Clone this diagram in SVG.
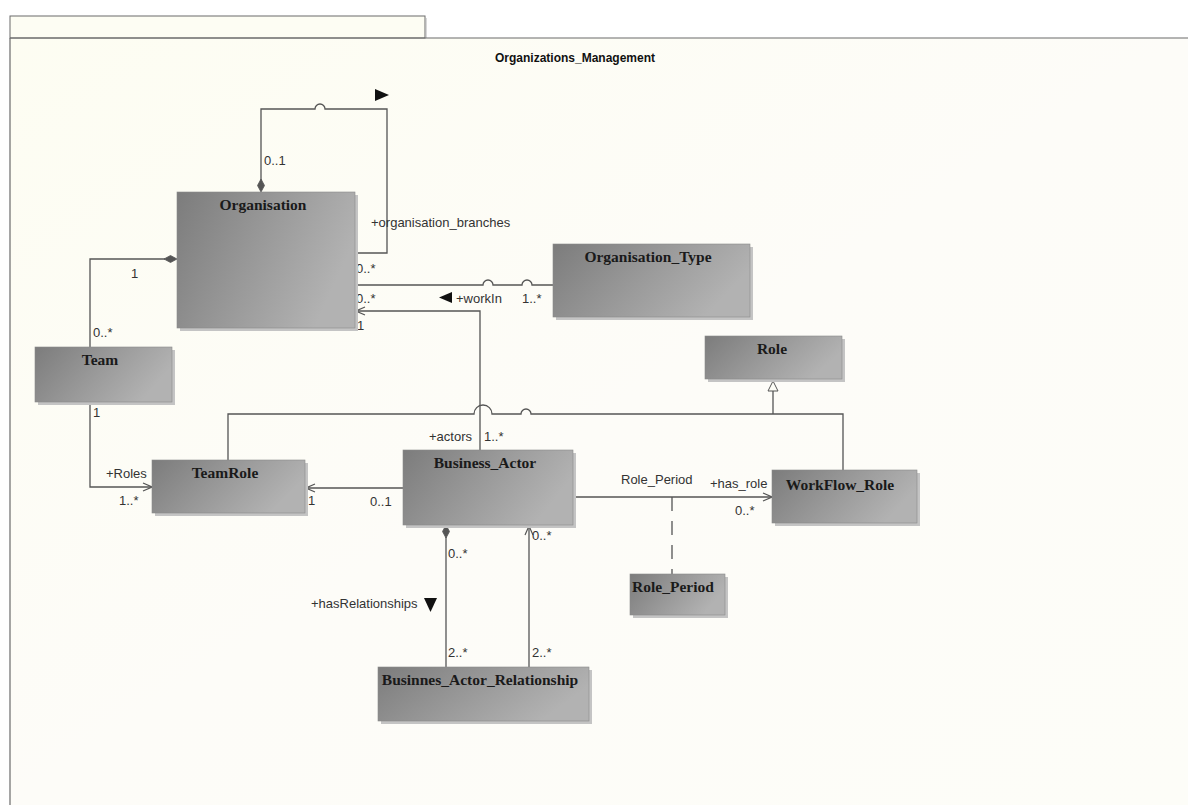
<svg xmlns="http://www.w3.org/2000/svg" width="1188" height="805" viewBox="0 0 1188 805">
<defs>
<linearGradient id="boxg" x1="0" y1="0" x2="1" y2="0.35">
<stop offset="0" stop-color="#7c7c7c"/>
<stop offset="0.55" stop-color="#9a9a9a"/>
<stop offset="1" stop-color="#b2b2b2"/>
</linearGradient>
<linearGradient id="bg" x1="0" y1="0" x2="1" y2="1">
<stop offset="0" stop-color="#fdfdf2"/>
<stop offset="0.5" stop-color="#fdfcf8"/>
<stop offset="1" stop-color="#fdfdf8"/>
</linearGradient>
<marker id="open" viewBox="0 0 10 10" refX="10" refY="5" markerWidth="10" markerHeight="10" markerUnits="userSpaceOnUse" orient="auto">
<path d="M1,1 L10,5 L1,9" fill="none" stroke="#555" stroke-width="1.2"/>
</marker>
</defs>
<style>
.shadow{fill:#c4c4c4}
.box{fill:url(#boxg);stroke:#8a8a8a;stroke-width:0.6}
.title{font-family:"Liberation Serif","Times New Roman",serif;font-weight:bold;font-size:15.5px;fill:#1a1a1a;text-anchor:middle}
.lbl{font-family:"Liberation Sans",Arial,sans-serif;font-size:13px;fill:#333}
.ln{fill:none;stroke:#555;stroke-width:1.3}
.dash{fill:none;stroke:#555;stroke-width:1.3;stroke-dasharray:14,10}
.dir{fill:#111}
.dia{fill:#555;stroke:#555;stroke-width:0.8}
</style>
<rect x="0" y="0" width="1188" height="805" fill="#ffffff"/>
<rect x="10" y="38" width="1178" height="767" fill="url(#bg)"/>
<rect x="10" y="16" width="415" height="22" fill="#fdfdf3" stroke="#6a6a6a" stroke-width="1"/>
<line x1="426" y1="18" x2="426" y2="38" stroke="#b0b0b0" stroke-width="1"/>
<line x1="10" y1="38" x2="1188" y2="38" stroke="#6a6a6a" stroke-width="1.2"/>
<line x1="10" y1="38" x2="10" y2="805" stroke="#6a6a6a" stroke-width="1.2"/>
<text x="575" y="62" font-family="Liberation Sans,Arial,sans-serif" font-weight="bold" font-size="12px" fill="#111" text-anchor="middle">Organizations_Management</text>

<g id="connectors">
<path class="ln" d="M261,182 V109 H315 A5,5 0 0 1 325,109 H387 V253 H355"/>
<polygon class="dia" points="261,179 264.5,185.5 261,192 257.5,185.5"/>
<path class="ln" d="M355,285 H483 A5,5 0 0 1 493,285 H522 A5,5 0 0 1 532,285 H553"/>
<path class="ln" d="M480,450 V311 H356" marker-end="url(#open)"/>
<path class="ln" d="M90,347 V259 H165"/>
<polygon class="dia" points="164,259 170.5,255.5 177,259 170.5,262.5"/>
<path class="ln" d="M90,402 V487 H152" marker-end="url(#open)"/>
<path class="ln" d="M403,488 H306" marker-end="url(#open)"/>
<path class="ln" d="M573,497 H772" marker-end="url(#open)"/>
<path class="dash" d="M672,497 V574"/>
<path class="ln" d="M446,667 V537"/>
<polygon class="dia" points="446,525 449.5,531.5 446,538 442.5,531.5"/>
<path class="ln" d="M529,667 V526" marker-end="url(#open)"/>
<path class="ln" d="M228,460 V414 H474 A9,9 0 0 1 492,414 H521 A5,5 0 0 1 531,414 H843 V470"/>
<path class="ln" d="M773,414 V391"/>
<path d="M773,381 L778,391 L768,391 Z" fill="#fdfdf6" stroke="#555" stroke-width="1"/>
<polygon class="dir" points="375,89 389,95 375,101"/>
<polygon class="dir" points="439,297.5 452,292 452,303"/>
<polygon class="dir" points="424,598 437,598 430.5,612"/>
<text class="lbl" x="264" y="165">0..1</text>
<text class="lbl" x="371" y="227">+organisation_branches</text>
<text class="lbl" x="356" y="273">0..*</text>
<text class="lbl" x="356" y="303">0..*</text>
<text class="lbl" x="456" y="303">+workIn</text>
<text class="lbl" x="522" y="303">1..*</text>
<text class="lbl" x="357" y="330">1</text>
<text class="lbl" x="131" y="278">1</text>
<text class="lbl" x="93" y="337">0..*</text>
<text class="lbl" x="93" y="417">1</text>
<text class="lbl" x="106" y="478">+Roles</text>
<text class="lbl" x="119" y="505">1..*</text>
<text class="lbl" x="308" y="505">1</text>
<text class="lbl" x="370" y="506">0..1</text>
<text class="lbl" x="429" y="441">+actors</text>
<text class="lbl" x="484" y="441">1..*</text>
<text class="lbl" x="621" y="484">Role_Period</text>
<text class="lbl" x="710" y="488">+has_role</text>
<text class="lbl" x="735" y="515">0..*</text>
<text class="lbl" x="448" y="558">0..*</text>
<text class="lbl" x="532" y="540">0..*</text>
<text class="lbl" x="311" y="608">+hasRelationships</text>
<text class="lbl" x="448" y="657">2..*</text>
<text class="lbl" x="532" y="657">2..*</text>
</g>

<g id="Organisation">
<rect class="shadow" x="180" y="195" width="178" height="136"/>
<rect class="box" x="177" y="192" width="178" height="136"/>
<text class="title" x="263" y="210">Organisation</text>
</g>
<g id="Organisation_Type">
<rect class="shadow" x="556" y="247" width="197" height="73"/>
<rect class="box" x="553" y="244" width="197" height="73"/>
<text class="title" x="648" y="262">Organisation_Type</text>
</g>
<g id="Role">
<rect class="shadow" x="708" y="339" width="137" height="43"/>
<rect class="box" x="705" y="336" width="137" height="43"/>
<text class="title" x="772" y="354">Role</text>
</g>
<g id="Team">
<rect class="shadow" x="38" y="350" width="137" height="55"/>
<rect class="box" x="35" y="347" width="137" height="55"/>
<text class="title" x="100" y="365">Team</text>
</g>
<g id="TeamRole">
<rect class="shadow" x="155" y="463" width="153" height="53"/>
<rect class="box" x="152" y="460" width="153" height="53"/>
<text class="title" x="225" y="478">TeamRole</text>
</g>
<g id="Business_Actor">
<rect class="shadow" x="406" y="453" width="170" height="75"/>
<rect class="box" x="403" y="450" width="170" height="75"/>
<text class="title" x="485" y="468">Business_Actor</text>
</g>
<g id="WorkFlow_Role">
<rect class="shadow" x="775" y="473" width="145" height="53"/>
<rect class="box" x="772" y="470" width="145" height="53"/>
<text class="title" x="840" y="490">WorkFlow_Role</text>
</g>
<g id="Role_Period">
<rect class="shadow" x="633" y="577" width="95" height="41"/>
<rect class="box" x="630" y="574" width="95" height="41"/>
<text class="title" x="673" y="592">Role_Period</text>
</g>
<g id="Businnes_Actor_Relationship">
<rect class="shadow" x="381" y="670" width="211" height="54"/>
<rect class="box" x="378" y="667" width="211" height="54"/>
<text class="title" x="480" y="685">Businnes_Actor_Relationship</text>
</g>
</svg>
